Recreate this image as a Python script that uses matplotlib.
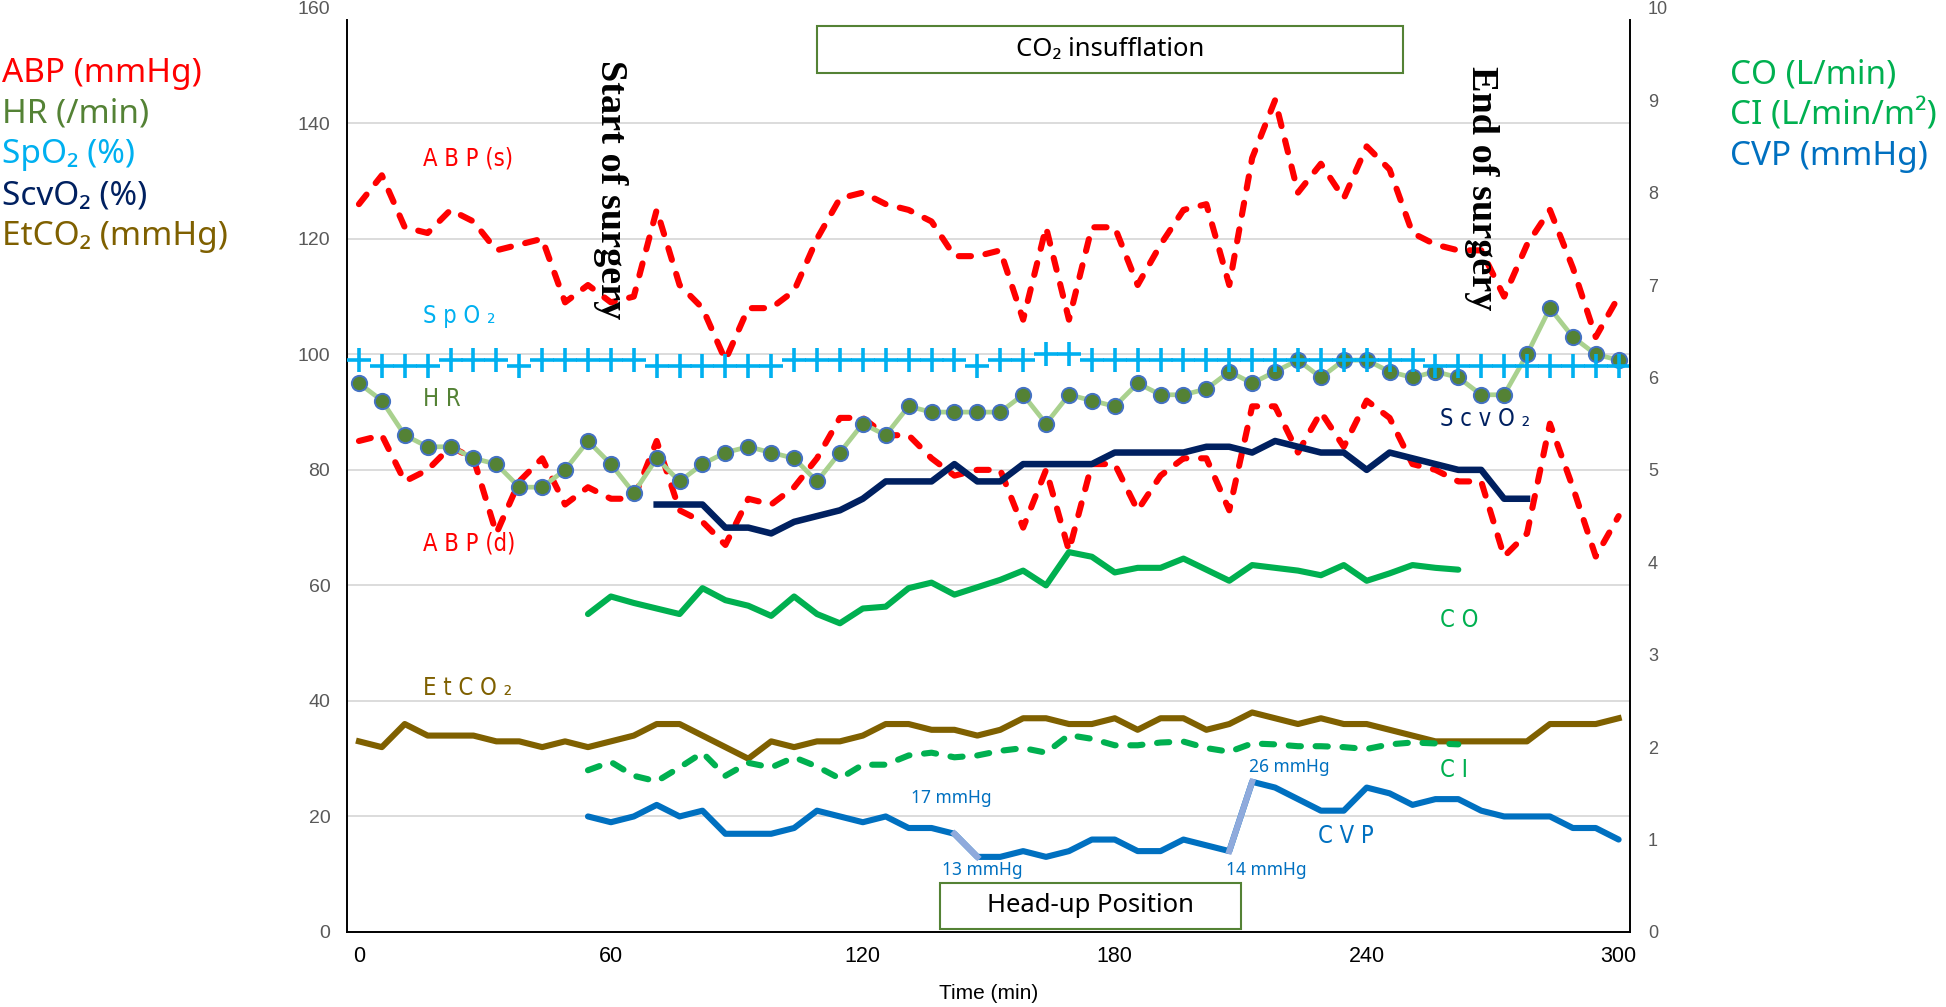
import numpy as np
import matplotlib
matplotlib.use("Agg")
import matplotlib.pyplot as plt
from matplotlib import font_manager
from matplotlib.patches import Rectangle


# 56 readings spread evenly over the 300 min record
minutes = np.linspace(0, 300, 56)
time_ticks = [0, 60, 120, 180, 240, 300]

abp_s = [126, 131, 122, 121, 125, 123, 118, 119, 120, 109,
         112, 109, 110, 125, 112, 108, 99, 108, 108, 111,
         120, 127, 128, 126, 125, 123, 117, 117, 118, 106,
         122, 106, 122, 122, 112, 119, 125, 126, 112, 134,
         144, 128, 133, 127, 136, 132, 121, 119, 118, 118,
         110, 119, 125, 115, 103, 110]
abp_d = [85, 86, 78, 80, 84, 82, 69, 78, 82, 74,
         77, 75, 75, 85, 73, 71, 67, 75, 74, 77,
         82, 89, 89, 86, 86, 82, 79, 80, 80, 70,
         80, 66, 81, 81, 73, 79, 82, 82, 73, 91,
         91, 83, 90, 84, 92, 89, 81, 80, 78, 78,
         65, 69, 88, 77, 65, 72]
hr = [95, 92, 86, 84, 84, 82, 81, 77, 77, 80,
      85, 81, 76, 82, 78, 81, 83, 84, 83, 82,
      78, 83, 88, 86, 91, 90, 90, 90, 90, 93,
      88, 93, 92, 91, 95, 93, 93, 94, 97, 95,
      97, 99, 96, 99, 99, 97, 96, 97, 96, 93,
      93, 100, 108, 103, 100, 99]
spo2 = [99, 98, 98, 98, 99, 99, 99, 98, 99, 99,
        99, 99, 99, 98, 98, 98, 98, 98, 98, 99,
        99, 99, 99, 99, 99, 99, 99, 98, 99, 99,
        100, 100, 99, 99, 99, 99, 99, 99, 99, 99,
        99, 99, 99, 99, 99, 99, 99, 98, 98, 98,
        98, 98, 98, 98, 98, 98]
etco2 = [33, 32, 36, 34, 34, 34, 33, 33, 32, 33,
         32, 33, 34, 36, 36, 34, 32, 30, 33, 32,
         33, 33, 34, 36, 36, 35, 35, 34, 35, 37,
         37, 36, 36, 37, 35, 37, 37, 35, 36, 38,
         37, 36, 37, 36, 36, 35, 34, 33, 33, 33,
         33, 33, 36, 36, 36, 37]

# series that start later: index of first reading
SCVO2_FROM = 13
scvo2 = [74, 74, 74, 70, 70, 69, 71, 72, 73, 75,
         78, 78, 78, 81, 78, 78, 81, 81, 81, 81,
         83, 83, 83, 83, 84, 84, 83, 85, 84, 83,
         83, 80, 83, 82, 81, 80, 80, 75, 75]

CO_FROM = 10
co = [3.44, 3.63, 3.56, 3.50, 3.44, 3.72, 3.59, 3.53, 3.42, 3.63,
      3.44, 3.34, 3.50, 3.52, 3.72, 3.78, 3.65, 3.73, 3.81, 3.91,
      3.75, 4.11, 4.06, 3.89, 3.94, 3.94, 4.04, 3.92, 3.80, 3.97,
      3.94, 3.91, 3.86, 3.97, 3.80, 3.88, 3.97, 3.94, 3.92]
ci = [1.75, 1.84, 1.69, 1.63, 1.78, 1.94, 1.69, 1.83, 1.78, 1.89,
      1.79, 1.66, 1.81, 1.81, 1.91, 1.94, 1.89, 1.91, 1.96, 1.99,
      1.94, 2.13, 2.09, 2.02, 2.02, 2.05, 2.06, 1.99, 1.95, 2.04,
      2.03, 2.01, 2.01, 2.00, 1.98, 2.03, 2.05, 2.04, 2.03]

CVP_FROM = 10
cvp = [20, 19, 20, 22, 20, 21, 17, 17, 17, 18,
       21, 20, 19, 20, 18, 18, 17, 13, 13, 14,
       13, 14, 16, 16, 14, 14, 16, 15, 14, 26,
       25, 23, 21, 21, 25, 24, 22, 23, 23, 21,
       20, 20, 20, 18, 18, 16]
# readings where the head-up position changed (start, end)
cvp_steps = [26, 38]

insufflation = (109, 248.7)
head_up = (138.5, 210)
surgery_start = 60
surgery_end = 267.3

RED = "#FF0000"
HR_DARK = "#548235"
HR_LIGHT = "#A9D18E"
SPO2_C = "#00B0F0"
SCVO2_C = "#002060"
ETCO2_C = "#7F6000"
CO_C = "#00B050"
CVP_C = "#0070C0"
CVP_STEP_C = "#8FAADC"

installed = {f.name for f in font_manager.fontManager.ttflist}
NARROW = "Liberation Sans Narrow" if "Liberation Sans Narrow" in installed else "DejaVu Sans"
SANS = ["Noto Sans", "DejaVu Sans"]

fig = plt.figure(figsize=(19.46, 10.07), dpi=100)
ax = fig.add_axes([0.1783, 0.0745, 0.6593, 0.9178])
ax2 = ax.twinx()

dash = (2.0, 2.4)
ax.plot(minutes, abp_s, color=RED, lw=4.4, dashes=dash, dash_capstyle="round", zorder=3)
ax.plot(minutes, abp_d, color=RED, lw=4.4, dashes=dash, dash_capstyle="round", zorder=3)
ax.plot(minutes, etco2, color=ETCO2_C, lw=4.4, solid_joinstyle="round", zorder=3)

t_scv = minutes[SCVO2_FROM:SCVO2_FROM + len(scvo2)]
ax.plot(t_scv, scvo2, color=SCVO2_C, lw=4.7, solid_joinstyle="round", zorder=3)

t_cvp = minutes[CVP_FROM:CVP_FROM + len(cvp)]
ax.plot(t_cvp, cvp, color=CVP_C, lw=4.4, solid_joinstyle="round", solid_capstyle="round", zorder=3)
for k in cvp_steps:
    i = k - CVP_FROM
    ax.plot(t_cvp[i:i + 2], cvp[i:i + 2], color=CVP_STEP_C, lw=4.4, zorder=3)

ax.plot(minutes, hr, color=HR_LIGHT, lw=3.4, marker="o", ms=11, mfc=HR_DARK,
        mec="#4472C4", mew=1.4, zorder=4)
ax.plot(minutes, spo2, ls="none", marker="+", ms=17, mew=2.6, color=SPO2_C, zorder=5)

t_co = minutes[CO_FROM:CO_FROM + len(co)]
ax2.plot(t_co, co, color=CO_C, lw=4.4, solid_joinstyle="round", solid_capstyle="round")
ax2.plot(t_co, ci, color=CO_C, lw=4.4, dashes=dash, dash_capstyle="round")

ax.set_xlim(-2.85, 302.7)
ax.set_ylim(0, 160)
ax2.set_ylim(0, 10)
ax.set_xticks(time_ticks)
ax.set_yticks(range(0, 161, 20))
ax2.set_yticks(range(0, 11))
ax.tick_params(axis="x", length=0, pad=10, labelsize=15.5, labelcolor="black")
ax.tick_params(axis="y", length=0, pad=12, labelsize=14, labelcolor="#595959")
ax2.tick_params(axis="y", length=0, pad=13, labelsize=13, labelcolor="#595959")
for lab in ax.get_xticklabels() + ax.get_yticklabels() + ax2.get_yticklabels():
    lab.set_family("Liberation Sans")

ax.set_axisbelow(True)
ax.yaxis.grid(True, color="#d9d9d9", lw=1.3)
ax.get_ygridlines()[-1].set_visible(False)

for sp in ["top", "right"]:
    ax.spines[sp].set_visible(False)
for sp in ["top", "left", "bottom"]:
    ax2.spines[sp].set_visible(False)
ax.spines["left"].set_bounds(0, 157.9)
ax.spines["left"].set_linewidth(1.4)
ax.spines["bottom"].set_linewidth(1.4)
ax2.spines["right"].set_bounds(0, 157.9 / 16)
ax2.spines["right"].set_linewidth(1.4)

ax.set_xlabel("Time (min)", fontsize=15, family="Liberation Sans", labelpad=12)

# event boxes
for (x0, x1), (y0, y1), label in [(insufflation, (148.7, 156.8), "CO\u2082 insufflation"),
                                  (head_up, (0.6, 8.5), "Head-up Position")]:
    ax.add_patch(Rectangle((x0, y0), x1 - x0, y1 - y0, facecolor="white",
                           edgecolor=HR_DARK, lw=1.5, zorder=6))
    ax.text((x0 + x1) / 2, (y0 + y1) / 2, label, ha="center", va="center",
            fontsize=18.5, family=SANS, zorder=7)

# start / end of surgery
for x, top, label in [(surgery_start, 151, "Start of surgery"), (surgery_end, 150, "End of surgery")]:
    ax.text(x, top, label, rotation=-90, ha="center", va="top", fontsize=27.5,
            family="Liberation Serif", fontweight="bold", zorder=8)

# inline series names
inline = [(15.3, 133.9, "A B P (s)", RED),
          (15.3, 106.7, "S p O \u2082", SPO2_C),
          (15.3, 92.2, "H R", HR_DARK),
          (15.3, 67.3, "A B P (d)", RED),
          (15.3, 42.3, "E t C O \u2082", ETCO2_C),
          (257.5, 88.8, "S c v O \u2082", SCVO2_C),
          (257.5, 54.0, "C O", CO_C),
          (257.5, 28.1, "C I", CO_C),
          (228.5, 16.6, "C V P", CVP_C)]
for x, y, label, c in inline:
    ax.text(x, y, label, color=c, fontsize=17, family=[NARROW, "DejaVu Sans"],
            fontstretch="condensed", ha="left", va="center", zorder=8)

# CVP values around the head-up position
for x, y, label in [(141, 23.2, "17 mmHg"), (148.5, 10.8, "13 mmHg"),
                    (216, 10.8, "14 mmHg"), (221.5, 28.5, "26 mmHg")]:
    ax.text(x, y, label, color=CVP_C, fontsize=12.5, family=SANS,
            ha="center", va="center", zorder=8)

# unit captions
left_units = [("ABP (mmHg)", RED), ("HR (/min)", HR_DARK), ("SpO\u2082 (%)", SPO2_C),
              ("ScvO\u2082 (%)", SCVO2_C), ("EtCO\u2082 (mmHg)", ETCO2_C)]
for k, (label, c) in enumerate(left_units):
    fig.text(0.001, 0.9275 - k * 0.0407, label, color=c, fontsize=24,
             family=SANS, ha="left", va="center")
right_units = [("CO (L/min)", CO_C), ("CI (L/min/m\u00b2)", CO_C), ("CVP (mmHg)", CVP_C)]
for k, (label, c) in enumerate(right_units):
    fig.text(0.889, 0.9255 - k * 0.0407, label, color=c, fontsize=24,
             family=SANS, ha="left", va="center")

fig.savefig("out.png", dpi=100)
